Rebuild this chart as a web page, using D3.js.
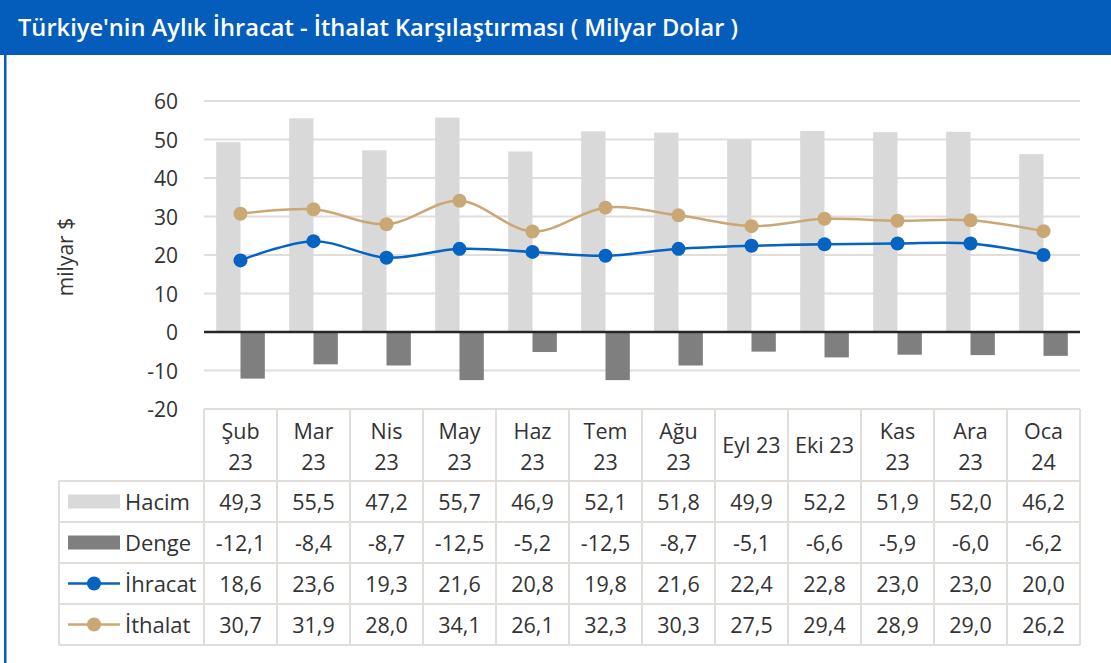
<!DOCTYPE html>
<html>
<head>
<meta charset="utf-8">
<script src="https://cdn.jsdelivr.net/npm/d3@7/dist/d3.min.js"></script>
<style>
  html, body { margin: 0; padding: 0; background: #fff; }
  svg { display: block; }
  text { font-family: "Open Sans", "Noto Sans", sans-serif; fill: #333; }
</style>
</head>
<body>
<svg id="chart" width="1111" height="663"></svg>
<script>
// ---- data ----
const categories = ["Şub 23", "Mar 23", "Nis 23", "May 23", "Haz 23", "Tem 23", "Ağu 23", "Eyl 23", "Eki 23", "Kas 23", "Ara 23", "Oca 24"];
const categoryLabels = [["Şub", "23"], ["Mar", "23"], ["Nis", "23"], ["May", "23"], ["Haz", "23"], ["Tem", "23"], ["Ağu", "23"], ["Eyl 23"], ["Eki 23"], ["Kas", "23"], ["Ara", "23"], ["Oca", "24"]];
const hacim = [49.3, 55.5, 47.2, 55.7, 46.9, 52.1, 51.8, 49.9, 52.2, 51.9, 52.0, 46.2];
const denge = [-12.1, -8.4, -8.7, -12.5, -5.2, -12.5, -8.7, -5.1, -6.6, -5.9, -6.0, -6.2];
const ihracat = [18.6, 23.6, 19.3, 21.6, 20.8, 19.8, 21.6, 22.4, 22.8, 23.0, 23.0, 20.0];
const ithalat = [30.7, 31.9, 28.0, 34.1, 26.1, 32.3, 30.3, 27.5, 29.4, 28.9, 29.0, 26.2];
const yTicks = [60, 50, 40, 30, 20, 10, 0, -10, -20];
const seriesNames = ["Hacim", "Denge", "İhracat", "İthalat"];
const title = "Türkiye'nin Aylık İhracat - İthalat Karşılaştırması ( Milyar Dolar )";
const yLabel = "milyar $";

// ---- styles ----
const colors = { Hacim: "#d9d9d9", Denge: "#7f7f7f", "İhracat": "#0563c1", "İthalat": "#c9a875" };
const gridColor = "#e2ddd9";
const svg = d3.select("#chart");

// header
svg.append("rect").attr("x", 0).attr("y", 0).attr("width", 1111).attr("height", 55).attr("fill", "#045dba");
svg.append("text").attr("x", 18).attr("y", 36).text(title)
  .style("fill", "#fff").style("font-size", "23px").style("font-weight", 600)
  .attr("textLength", 720).attr("lengthAdjust", "spacingAndGlyphs");
svg.append("rect").attr("x", 4).attr("y", 55).attr("width", 2.5).attr("height", 608).attr("fill", "#045dba");

// scales
const plotL = 204, plotR = 1080;
const x = d3.scaleBand().domain(categories).range([plotL, plotR]).padding(0);
const xs = d3.scaleBand().domain(["Hacim", "Denge"]).range([0, x.bandwidth()]).paddingInner(0).paddingOuter(0.5);
const y = d3.scaleLinear().domain([-20, 60]).range([409, 101]);

// gridlines
svg.append("g").selectAll("line").data(yTicks.filter(d => d !== 0 && d !== -20)).join("line")
  .attr("x1", plotL).attr("x2", plotR).attr("y1", d => y(d)).attr("y2", d => y(d))
  .attr("stroke", gridColor).attr("stroke-width", 2);

// y-axis labels
const yAxis = d3.axisLeft(y).tickValues(yTicks).tickSize(0).tickPadding(0).tickFormat(d => String(d));
const ya = svg.append("g").attr("transform", "translate(178,0)").call(yAxis);
ya.select(".domain").remove();
ya.selectAll("text").style("font-size", "21px").style("fill", "#333").style("font-family", "Open Sans").attr("dy", "0.36em");

svg.append("text").attr("transform", "translate(73,257) rotate(-90)").attr("text-anchor", "middle")
  .style("font-size", "21px").text(yLabel);

// bars
svg.append("g").selectAll("rect").data(categories).join("rect")
  .attr("x", (d) => x(d) + xs("Hacim")).attr("width", xs.bandwidth())
  .attr("y", (d, i) => y(hacim[i])).attr("height", (d, i) => y(0) - y(hacim[i]))
  .attr("fill", colors.Hacim);
svg.append("g").selectAll("rect").data(categories).join("rect")
  .attr("x", (d) => x(d) + xs("Denge")).attr("width", xs.bandwidth())
  .attr("y", y(0)).attr("height", (d, i) => y(denge[i]) - y(0))
  .attr("fill", colors.Denge);

// zero line
svg.append("line").attr("x1", plotL).attr("x2", plotR).attr("y1", y(0)).attr("y2", y(0))
  .attr("stroke", "#262626").attr("stroke-width", 2.5);

// lines
const cx = d => x(d) + x.bandwidth() / 2;
function drawLine(vals, color) {
  const line = d3.line().x((d, i) => cx(categories[i])).y(d => y(d)).curve(d3.curveCatmullRom.alpha(0.5));
  svg.append("path").datum(vals).attr("d", line).attr("fill", "none").attr("stroke", color).attr("stroke-width", 2.5);
  svg.append("g").selectAll("circle").data(vals).join("circle")
    .attr("cx", (d, i) => cx(categories[i])).attr("cy", d => y(d)).attr("r", 7).attr("fill", color);
}
drawLine(ihracat, colors["İhracat"]);
drawLine(ithalat, colors["İthalat"]);

// ---- data table ----
const tTop = y(-20), hdrBottom = 481, rowH = 41, legL = 59;
const rowTops = seriesNames.map((s, i) => hdrBottom + i * rowH);
const tBottom = hdrBottom + seriesNames.length * rowH;
const tg = svg.append("g");
tg.append("line").attr("x1", plotL).attr("x2", plotR).attr("y1", tTop).attr("y2", tTop).attr("stroke", gridColor).attr("stroke-width", 2);
[...rowTops, tBottom].forEach(yy => {
  tg.append("line").attr("x1", legL).attr("x2", plotR).attr("y1", yy).attr("y2", yy).attr("stroke", gridColor).attr("stroke-width", 2);
});
const vx = categories.map(c => x(c)).concat([plotR]);
vx.forEach(xx => {
  tg.append("line").attr("x1", xx).attr("x2", xx).attr("y1", tTop).attr("y2", tBottom).attr("stroke", gridColor).attr("stroke-width", 2);
});
tg.append("line").attr("x1", legL).attr("x2", legL).attr("y1", hdrBottom).attr("y2", tBottom).attr("stroke", gridColor).attr("stroke-width", 2);

// header labels
categories.forEach((c, i) => {
  const lines = categoryLabels[i];
  const t = tg.append("text").attr("text-anchor", "middle").style("font-size", "21.5px");
  if (lines.length === 1) {
    t.append("tspan").attr("x", cx(c)).attr("y", 453).text(lines[0]);
  } else {
    t.append("tspan").attr("x", cx(c)).attr("y", 439).text(lines[0]);
    t.append("tspan").attr("x", cx(c)).attr("y", 470).text(lines[1]);
  }
});

// rows
const rowData = [hacim, denge, ihracat, ithalat];
const fmt = v => v.toFixed(1).replace(".", ",");
seriesNames.forEach((s, r) => {
  const mid = rowTops[r] + rowH / 2;
  if (r < 2) {
    tg.append("rect").attr("x", 68).attr("y", mid - 7).attr("width", 52).attr("height", 14).attr("fill", colors[s]);
  } else {
    tg.append("line").attr("x1", 68).attr("x2", 120).attr("y1", mid).attr("y2", mid).attr("stroke", colors[s]).attr("stroke-width", 2.5);
    tg.append("circle").attr("cx", 94).attr("cy", mid).attr("r", 7).attr("fill", colors[s]);
  }
  tg.append("text").attr("x", 125).attr("y", mid + 8).style("font-size", "22px").text(s);
  rowData[r].forEach((v, i) => {
    tg.append("text").attr("x", cx(categories[i])).attr("y", mid + 8).attr("text-anchor", "middle")
      .style("font-size", "21.5px").text(fmt(v));
  });
});
</script>
</body>
</html>
